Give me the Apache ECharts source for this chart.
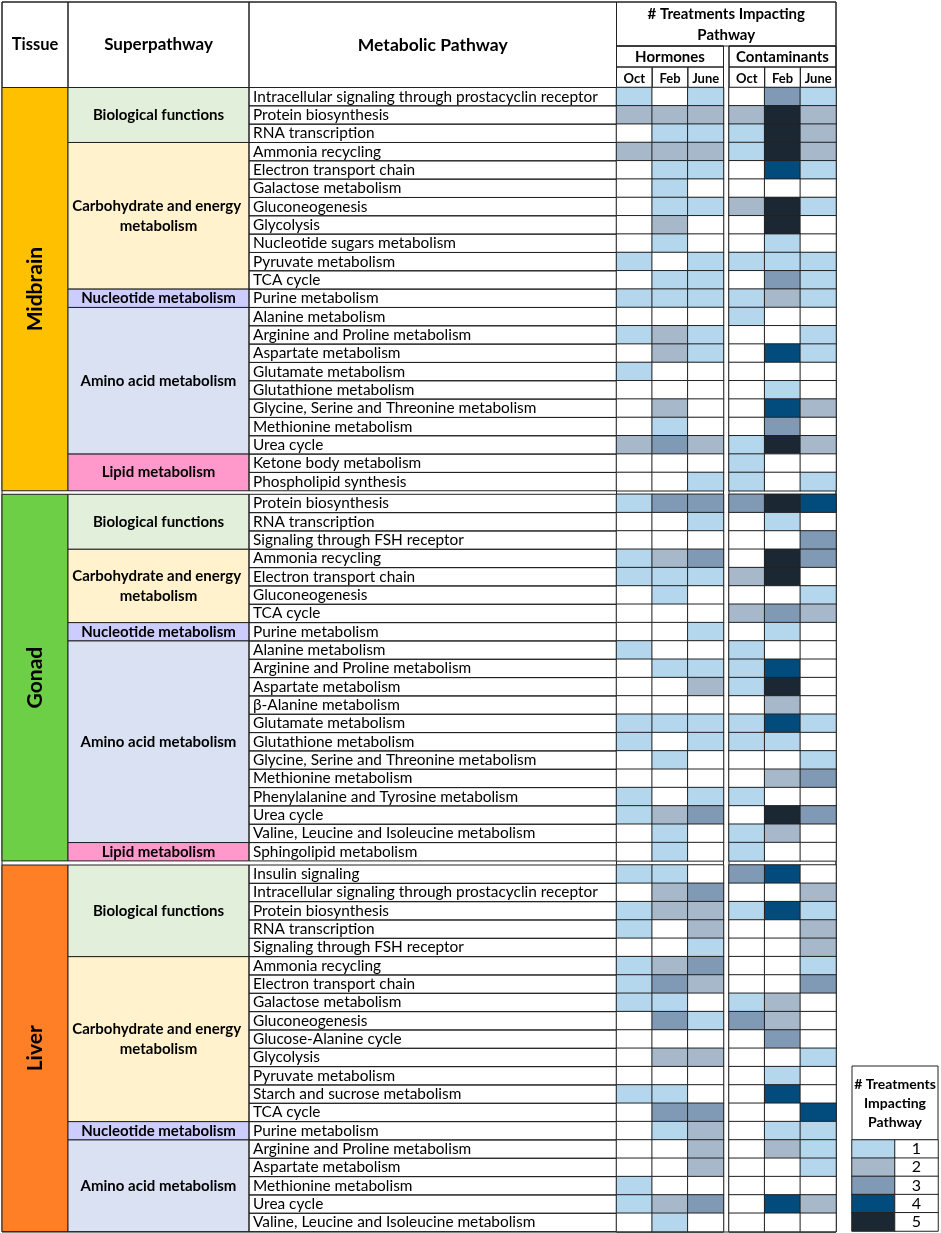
<!DOCTYPE html>
<html>
<head>
<meta charset="UTF-8">
<title>Treatments impacting metabolic pathways</title>
<script src="https://cdn.jsdelivr.net/npm/echarts@6/dist/echarts.min.js"></script>
<style>html,body{margin:0;padding:0;background:#fff}</style>
</head>
<body>
<div id="main" style="width:941px;height:1233px;"></div>
<script type="text/javascript">
// ---- data ----
var months = ['Oct', 'Feb', 'June'];
var groups = ['Hormones', 'Contaminants'];
var tissues = ['Midbrain', 'Gonad', 'Liver'];
var levels = [1, 2, 3, 4, 5];

var midbrainPathways = [
  'Intracellular signaling through prostacyclin receptor', 'Protein biosynthesis', 'RNA transcription',
  'Ammonia recycling', 'Electron transport chain', 'Galactose metabolism', 'Gluconeogenesis', 'Glycolysis',
  'Nucleotide sugars metabolism', 'Pyruvate metabolism', 'TCA cycle',
  'Purine metabolism',
  'Alanine metabolism', 'Arginine and Proline metabolism', 'Aspartate metabolism', 'Glutamate metabolism',
  'Glutathione metabolism', 'Glycine, Serine and Threonine metabolism', 'Methionine metabolism', 'Urea cycle',
  'Ketone body metabolism', 'Phospholipid synthesis'
];
var midbrainSuper = [['Biological functions', 3], ['Carbohydrate and energy metabolism', 8],
  ['Nucleotide metabolism', 1], ['Amino acid metabolism', 8], ['Lipid metabolism', 2]];
var midbrainHormones = [[1,0,1],[2,2,2],[0,1,1],[2,2,2],[0,1,1],[0,1,0],[0,1,1],[0,2,0],[0,1,0],[1,0,1],[0,1,1],
  [1,1,1],[0,0,0],[1,2,1],[0,2,1],[1,0,0],[0,0,0],[0,2,0],[0,1,0],[2,3,2],[0,0,0],[0,0,1]];
var midbrainContaminants = [[0,3,1],[2,5,2],[1,5,2],[1,5,2],[0,4,1],[0,0,0],[2,5,1],[0,5,0],[0,1,0],[1,1,1],[0,3,1],
  [1,2,1],[1,0,0],[0,0,1],[0,4,1],[0,0,0],[0,1,0],[0,4,2],[0,3,0],[1,5,2],[1,0,0],[1,0,1]];

var gonadPathways = [
  'Protein biosynthesis', 'RNA transcription', 'Signaling through FSH receptor',
  'Ammonia recycling', 'Electron transport chain', 'Gluconeogenesis', 'TCA cycle',
  'Purine metabolism',
  'Alanine metabolism', 'Arginine and Proline metabolism', 'Aspartate metabolism', 'β-Alanine metabolism',
  'Glutamate metabolism', 'Glutathione metabolism', 'Glycine, Serine and Threonine metabolism',
  'Methionine metabolism', 'Phenylalanine and Tyrosine metabolism', 'Urea cycle',
  'Valine, Leucine and Isoleucine metabolism',
  'Sphingolipid metabolism'
];
var gonadSuper = [['Biological functions', 3], ['Carbohydrate and energy metabolism', 4],
  ['Nucleotide metabolism', 1], ['Amino acid metabolism', 11], ['Lipid metabolism', 1]];
var gonadHormones = [[1,3,3],[0,0,1],[0,0,0],[1,2,3],[1,1,1],[0,1,0],[0,0,0],[0,0,1],[1,0,0],[0,1,1],
  [0,0,2],[0,0,0],[1,1,1],[1,0,1],[0,1,0],[0,0,0],[1,0,1],[1,2,3],[0,1,0],[0,1,0]];
var gonadContaminants = [[3,5,4],[0,1,0],[0,0,3],[0,5,3],[2,5,0],[0,0,1],[2,3,2],[0,1,0],[1,0,0],[1,4,0],
  [1,5,0],[0,2,0],[1,4,1],[1,1,0],[0,0,1],[0,2,3],[1,0,0],[0,5,3],[1,2,0],[1,0,0]];

var liverPathways = [
  'Insulin signaling', 'Intracellular signaling through prostacyclin receptor', 'Protein biosynthesis',
  'RNA transcription', 'Signaling through FSH receptor',
  'Ammonia recycling', 'Electron transport chain', 'Galactose metabolism', 'Gluconeogenesis',
  'Glucose-Alanine cycle', 'Glycolysis', 'Pyruvate metabolism', 'Starch and sucrose metabolism', 'TCA cycle',
  'Purine metabolism',
  'Arginine and Proline metabolism', 'Aspartate metabolism', 'Methionine metabolism', 'Urea cycle',
  'Valine, Leucine and Isoleucine metabolism'
];
var liverSuper = [['Biological functions', 5], ['Carbohydrate and energy metabolism', 9],
  ['Nucleotide metabolism', 1], ['Amino acid metabolism', 5]];
var liverHormones = [[1,1,0],[0,2,3],[1,2,2],[1,0,2],[0,0,1],[1,2,3],[1,3,2],[1,1,0],[0,3,1],[0,0,0],
  [0,2,2],[0,0,0],[1,1,0],[0,3,3],[0,1,2],[0,0,2],[0,0,2],[1,0,0],[1,2,3],[0,1,0]];
var liverContaminants = [[3,4,0],[0,0,2],[1,4,1],[0,0,2],[0,0,2],[0,0,1],[0,0,3],[1,2,0],[3,2,0],[0,3,0],
  [0,0,1],[0,1,0],[0,4,0],[0,0,4],[0,1,1],[0,2,1],[0,0,1],[0,0,0],[0,4,2],[0,0,0]];

// ---- styles / layout ----
var FONT = 'Lato, "Open Sans", sans-serif';
var heatColors = ['#ffffff', '#b4d7ee', '#a8b8cb', '#8099b4', '#024b7d', '#1b2833'];
var tissueColors = ['#ffc000', '#6ccf46', '#ff7f27'];
var superColors = {
  'Biological functions': '#e2efda',
  'Carbohydrate and energy metabolism': '#fff2cc',
  'Nucleotide metabolism': '#ccccff',
  'Amino acid metabolism': '#d9e1f2',
  'Lipid metabolism': '#ff99cc'
};
var colX = {left: 2, tissue: 68, sup: 249, path: 616.5, hormEnd: 723.5, contStart: 729, right: 836};
var tissueTop = [87.5, 494.3, 865];
var rowH = 18.33;
var LINE = '#222';

var pathwaysByTissue = [midbrainPathways, gonadPathways, liverPathways];
var superByTissue = [midbrainSuper, gonadSuper, liverSuper];
var valuesByTissue = [[midbrainHormones, midbrainContaminants], [gonadHormones, gonadContaminants],
  [liverHormones, liverContaminants]];

var grid = [], xAxis = [], yAxis = [], series = [], heatIdx = [];

tissues.forEach(function (tissue, t) {
  var paths = pathwaysByTissue[t];
  groups.forEach(function (g, gi) {
    var idx = grid.length;
    var left = gi === 0 ? colX.path : colX.contStart;
    var right = gi === 0 ? colX.hormEnd : colX.right;
    grid.push({left: left, top: tissueTop[t], width: right - left, height: paths.length * rowH,
      outerBoundsMode: 'none'});
    xAxis.push({
      gridIndex: idx, type: 'category', data: months, position: 'top',
      axisLine: {show: false}, axisTick: {show: false}, splitLine: {show: false},
      axisLabel: {show: t === 0, margin: 2, fontSize: 13, fontWeight: 'bold', color: '#000', fontFamily: FONT},
      name: t === 0 ? g : '', nameLocation: 'middle', nameGap: 23,
      nameTextStyle: {fontSize: 15, fontWeight: 'bold', color: '#000', fontFamily: FONT}
    });
    yAxis.push({
      gridIndex: idx, type: 'category', data: paths, inverse: true, z: 5,
      axisLine: {show: false}, axisTick: {show: false}, splitLine: {show: false},
      axisLabel: {show: gi === 0, interval: 0, align: 'left', margin: colX.path - 253,
        fontSize: 15.4, color: '#000', fontFamily: FONT}
    });
    var cells = [];
    valuesByTissue[t][gi].forEach(function (row, r) {
      row.forEach(function (v, m) { cells.push([m, r, v]); });
    });
    heatIdx.push(series.length);
    series.push({
      type: 'heatmap', xAxisIndex: idx, yAxisIndex: idx, data: cells,
      itemStyle: {borderColor: LINE, borderWidth: 1},
      emphasis: {disabled: true}
    });
  });

  // left table columns: tissue block, superpathway blocks, pathway cells
  var items = [{kind: 'tissue', start: 0, end: paths.length - 1, name: tissue}];
  var s = 0;
  superByTissue[t].forEach(function (sp) {
    items.push({kind: 'super', start: s, end: s + sp[1] - 1, name: sp[0]});
    s += sp[1];
  });
  paths.forEach(function (p, i) { items.push({kind: 'row', start: i, end: i}); });

  series.push({
    type: 'custom', xAxisIndex: t * 2, yAxisIndex: t * 2, silent: true, z: 1,
    data: items.map(function (it) { return [0, it.start, it.end]; }),
    encode: {x: 0, y: 1},
    renderItem: function (params, api) {
      var it = items[params.dataIndex];
      var half = Math.abs(api.size([0, 1])[1]) / 2;
      var y0 = api.coord([0, it.start])[1] - half;
      var y1 = api.coord([0, it.end])[1] + half;
      if (it.kind === 'row') {
        return {type: 'rect', shape: {x: colX.sup, y: y0, width: colX.path - colX.sup, height: y1 - y0},
          style: {fill: 'none', stroke: LINE, lineWidth: 1}};
      }
      var x0 = it.kind === 'tissue' ? colX.left : colX.tissue;
      var x1 = it.kind === 'tissue' ? colX.tissue : colX.sup;
      var fill = it.kind === 'tissue' ? tissueColors[t] : superColors[it.name];
      var label = it.kind === 'tissue'
        ? {type: 'text', x: (x0 + x1) / 2, y: (y0 + y1) / 2, rotation: Math.PI / 2,
            style: {text: it.name, fontSize: 21, fontWeight: 'bold', fontFamily: FONT, fill: '#000',
              align: 'center', verticalAlign: 'middle'}}
        : {type: 'text', x: (x0 + x1) / 2, y: (y0 + y1) / 2,
            style: {text: it.name, fontSize: 15, fontWeight: 'bold', fontFamily: FONT, fill: '#000',
              align: 'center', verticalAlign: 'middle', width: x1 - x0 - 6, overflow: 'break', lineHeight: 20}};
      return {type: 'group', children: [
        {type: 'rect', shape: {x: x0, y: y0, width: x1 - x0, height: y1 - y0},
          style: {fill: fill, stroke: LINE, lineWidth: 1}},
        label
      ]};
    }
  });
});

// legend as a small heatmap: swatch column + count column
var legIdx = grid.length;
grid.push({left: 852, top: 1140, width: 86, height: 91, outerBoundsMode: 'none'});
xAxis.push({gridIndex: legIdx, type: 'category', data: ['swatch', 'count'], show: false});
yAxis.push({gridIndex: legIdx, type: 'category', data: levels.map(String), inverse: true, show: false});
var legCells = [];
levels.forEach(function (l, i) { legCells.push([0, i, l]); legCells.push([1, i, 0]); });
heatIdx.push(series.length);
series.push({
  type: 'heatmap', xAxisIndex: legIdx, yAxisIndex: legIdx, data: legCells,
  itemStyle: {borderColor: LINE, borderWidth: 1}, emphasis: {disabled: true},
  label: {show: true, fontSize: 16, color: '#000', fontFamily: FONT,
    formatter: function (p) { return p.value[0] === 1 ? String(levels[p.value[1]]) : ''; }}
});

function hdrText(text, x, y, size) {
  return {type: 'text', x: x, y: y, z: 10,
    style: {text: text, fontSize: size, fontWeight: 'bold', fontFamily: FONT, fill: '#000',
      align: 'center', verticalAlign: 'middle', lineHeight: 21}};
}
function box(x, y, w, h) {
  return {type: 'rect', shape: {x: x, y: y, width: w, height: h}, z: 0,
    style: {fill: 'none', stroke: LINE, lineWidth: 1}};
}
var monthW = (colX.hormEnd - colX.path) / months.length;
var graphics = [
  box(colX.left, 2, colX.right - colX.left, 1230),
  box(colX.left, 2, colX.tissue - colX.left, 85.5),
  box(colX.tissue, 2, colX.sup - colX.tissue, 85.5),
  box(colX.sup, 2, colX.path - colX.sup, 85.5),
  box(colX.path, 2, colX.right - colX.path, 44),
  box(colX.path, 46, colX.hormEnd - colX.path, 1186),
  box(colX.contStart, 46, colX.right - colX.contStart, 1186),
  box(colX.path, 46, colX.hormEnd - colX.path, 21),
  box(colX.contStart, 46, colX.right - colX.contStart, 21),
  hdrText('Tissue', (colX.left + colX.tissue) / 2, 45, 16.5),
  hdrText('Superpathway', (colX.tissue + colX.sup) / 2, 45, 17),
  hdrText('Metabolic Pathway', (colX.sup + colX.path) / 2, 45, 17.5),
  hdrText('# Treatments Impacting\nPathway', (colX.path + colX.right) / 2, 25, 15),
  box(852, 1066, 86, 74),
  {type: 'text', x: 895, y: 1103, z: 10,
    style: {text: '# Treatments\nImpacting\nPathway', fontSize: 14, fontWeight: 'bold', fontFamily: FONT,
      fill: '#000', align: 'center', verticalAlign: 'middle', lineHeight: 19}}
];
[colX.path, colX.contStart].forEach(function (x0) {
  months.forEach(function (m, i) { graphics.push(box(x0 + i * monthW, 67, monthW, 20.5)); });
});

var myChart = echarts.init(document.getElementById('main'));
myChart.setOption({
  animation: false,
  grid: grid,
  xAxis: xAxis,
  yAxis: yAxis,
  visualMap: {
    type: 'piecewise', show: false, dimension: 2, seriesIndex: heatIdx,
    pieces: heatColors.map(function (c, v) { return {value: v, color: c}; })
  },
  graphic: {elements: graphics},
  series: series
});
</script>
</body>
</html>
